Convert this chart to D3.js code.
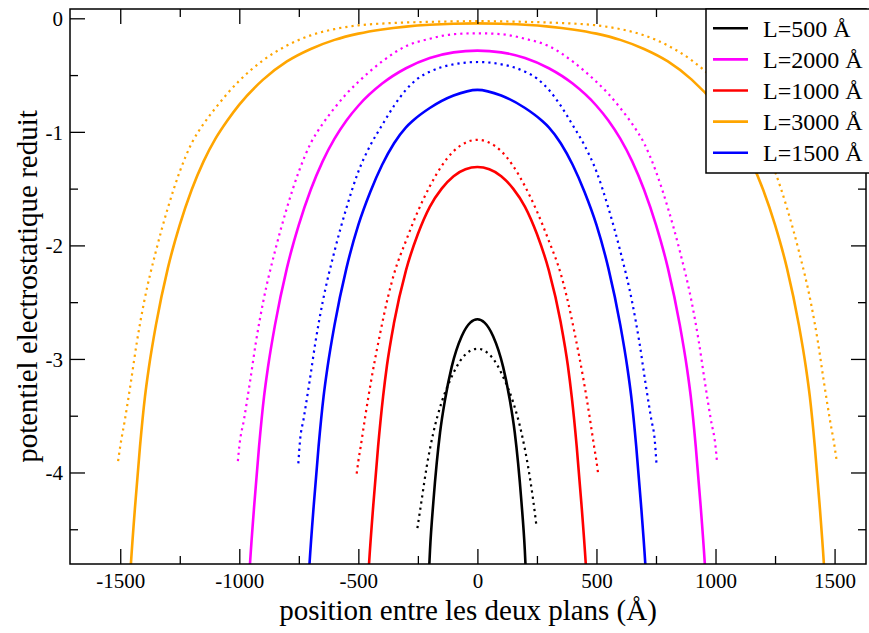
<!DOCTYPE html>
<html>
<head>
<meta charset="utf-8">
<script src="https://cdn.jsdelivr.net/npm/d3@7"></script>
<style>
  html, body { margin: 0; padding: 0; background: #fff; }
  svg { display: block; }
  svg text { font-family: "Liberation Serif", "Times New Roman", serif !important; }
</style>
</head>
<body>
<svg id="chart" width="869" height="633"></svg>
<script>
// ---------- data ----------
const legendLabels = ["L=500 Å", "L=2000 Å", "L=1000 Å", "L=3000 Å", "L=1500 Å"];
const seriesColors = ["#000000", "#ff00ff", "#ff0000", "#ffa500", "#0000ff"];

const xTicks = [-1500, -1000, -500, 0, 500, 1000, 1500];
const yTicks = [0, -1, -2, -3, -4];

// L = 500 Å  (solid = full curve, d = dotted companion)
const x500 = [-204, -199, -185, -171, -157, -136, -108, -66, -30, 0, 30, 66, 108, 136, 157, 171, 185, 199, 204];
const y500 = [-4.9, -4.68, -4.26, -3.92, -3.65, -3.36, -3.07, -2.80, -2.68, -2.65, -2.68, -2.80, -3.07, -3.36, -3.65, -3.92, -4.26, -4.68, -4.9];
const x500d = [-252, -234, -213, -185, -150, -115, -59, 0, 59, 115, 150, 185, 213, 234, 248];
const y500d = [-4.49, -4.24, -3.95, -3.65, -3.38, -3.19, -2.98, -2.91, -2.98, -3.19, -3.38, -3.65, -3.95, -4.24, -4.47];

// L = 1000 Å
const x1000 = [-458, -455, -437, -417, -396, -380, -350, -300, -250, -200, -150, -100, -50, 0, 50, 100, 150, 200, 250, 300, 350, 380, 396, 417, 437, 455, 458];
const y1000 = [-4.9, -4.8, -4.28, -3.77, -3.33, -3.06, -2.68, -2.22, -1.90, -1.66, -1.50, -1.39, -1.33, -1.31, -1.33, -1.39, -1.50, -1.66, -1.90, -2.22, -2.68, -3.06, -3.33, -3.77, -4.28, -4.8, -4.9];
const x1000d = [-507, -500, -490, -472, -447, -409, -375, -350, -300, -250, -200, -150, -100, -50, 0, 50, 100, 150, 200, 250, 300, 350, 375, 409, 447, 472, 490, 500, 507];
const y1000d = [-4.01, -3.90, -3.77, -3.52, -3.20, -2.78, -2.45, -2.25, -1.96, -1.70, -1.48, -1.30, -1.17, -1.095, -1.07, -1.095, -1.17, -1.30, -1.48, -1.70, -1.96, -2.25, -2.45, -2.78, -3.20, -3.52, -3.77, -3.90, -4.01];

// L = 1500 Å
const x1500 = [-708, -705, -687, -667, -646, -630, -600, -550, -500, -450, -400, -350, -300, -270, -200, -100, 0, 100, 200, 270, 300, 350, 400, 450, 500, 550, 600, 630, 646, 667, 687, 705, 708];
const y1500 = [-4.9, -4.8, -4.28, -3.77, -3.33, -3.08, -2.70, -2.20, -1.82, -1.53, -1.29, -1.10, -0.96, -0.90, -0.79, -0.68, -0.63, -0.68, -0.79, -0.90, -0.96, -1.10, -1.29, -1.53, -1.82, -2.20, -2.70, -3.08, -3.33, -3.77, -4.28, -4.8, -4.9];
const x1500d = [-752, -745, -730, -705, -680, -650, -600, -550, -500, -450, -400, -350, -300, -250, -200, -100, 0, 100, 200, 250, 300, 350, 400, 450, 500, 550, 600, 650, 680, 705, 730, 745, 752];
const y1500d = [-3.92, -3.72, -3.53, -3.20, -2.85, -2.50, -2.05, -1.67, -1.35, -1.12, -0.94, -0.77, -0.63, -0.53, -0.47, -0.405, -0.385, -0.405, -0.47, -0.53, -0.63, -0.77, -0.94, -1.12, -1.35, -1.67, -2.05, -2.50, -2.85, -3.20, -3.53, -3.72, -3.92];

// L = 2000 Å
const x2000 = [-958, -955, -937, -917, -896, -880, -850, -800, -750, -700, -650, -600, -550, -500, -400, -300, -200, -100, 0, 100, 200, 300, 400, 500, 550, 600, 650, 700, 750, 800, 850, 880, 896, 917, 937, 955, 958];
const y2000 = [-4.9, -4.8, -4.28, -3.77, -3.33, -3.08, -2.70, -2.20, -1.82, -1.51, -1.26, -1.06, -0.90, -0.77, -0.575, -0.44, -0.35, -0.30, -0.285, -0.30, -0.35, -0.44, -0.575, -0.77, -0.90, -1.06, -1.26, -1.51, -1.82, -2.20, -2.70, -3.08, -3.33, -3.77, -4.28, -4.8, -4.9];
const x2000d = [-1006, -1000, -980, -955, -930, -900, -850, -800, -750, -700, -650, -600, -550, -500, -400, -300, -200, -100, 0, 100, 200, 300, 400, 500, 550, 600, 650, 700, 750, 800, 850, 900, 930, 955, 980, 1000, 1006];
const y2000d = [-3.90, -3.77, -3.53, -3.20, -2.85, -2.50, -2.05, -1.67, -1.35, -1.10, -0.93, -0.79, -0.665, -0.56, -0.38, -0.245, -0.18, -0.14, -0.132, -0.14, -0.18, -0.245, -0.38, -0.56, -0.665, -0.79, -0.93, -1.10, -1.35, -1.67, -2.05, -2.50, -2.85, -3.20, -3.53, -3.77, -3.90];

// L = 3000 Å
const x3000 = [-1458, -1455, -1437, -1417, -1396, -1380, -1350, -1300, -1250, -1200, -1150, -1100, -1050, -1000, -900, -800, -700, -600, -500, -400, -300, -200, -100, 0, 100, 200, 300, 400, 500, 600, 700, 800, 900, 1000, 1050, 1100, 1150, 1200, 1250, 1300, 1350, 1380, 1396, 1417, 1437, 1455, 1458];
const y3000 = [-4.9, -4.8, -4.28, -3.77, -3.33, -3.08, -2.70, -2.20, -1.82, -1.51, -1.26, -1.06, -0.90, -0.76, -0.54, -0.38, -0.27, -0.19, -0.135, -0.098, -0.073, -0.057, -0.048, -0.045, -0.048, -0.057, -0.073, -0.098, -0.135, -0.19, -0.27, -0.38, -0.54, -0.76, -0.90, -1.06, -1.26, -1.51, -1.82, -2.20, -2.70, -3.08, -3.33, -3.77, -4.28, -4.8, -4.9];
const x3000d = [-1509, -1500, -1480, -1455, -1430, -1400, -1350, -1300, -1250, -1200, -1150, -1100, -1000, -900, -800, -700, -600, -500, -400, -300, -200, -100, 0, 100, 200, 300, 400, 500, 600, 700, 800, 900, 1000, 1100, 1150, 1200, 1250, 1300, 1350, 1400, 1430, 1455, 1480, 1500, 1509];
const y3000d = [-3.90, -3.77, -3.53, -3.20, -2.85, -2.50, -2.05, -1.67, -1.35, -1.10, -0.93, -0.79, -0.55, -0.37, -0.24, -0.15, -0.095, -0.062, -0.046, -0.037, -0.031, -0.027, -0.025, -0.027, -0.031, -0.037, -0.046, -0.062, -0.095, -0.15, -0.24, -0.37, -0.55, -0.79, -0.93, -1.10, -1.35, -1.67, -2.05, -2.50, -2.85, -3.20, -3.53, -3.77, -3.90];

// series drawn back to front: [x, y, colour index, dotted?]
const series = [
  [x3000, y3000, 3, false], [x3000d, y3000d, 3, true],
  [x2000, y2000, 1, false], [x2000d, y2000d, 1, true],
  [x1500, y1500, 4, false], [x1500d, y1500d, 4, true],
  [x1000, y1000, 2, false], [x1000d, y1000d, 2, true],
  [x500, y500, 0, false],   [x500d, y500d, 0, true]
];

// ---------- layout ----------
const svg = d3.select("#chart");
const L = 70, R = 866, T = 9, B = 564;
const x = d3.scaleLinear().domain([-1711, 1632]).range([L, R]);
const y = d3.scaleLinear().domain([-4.806, 0.082]).range([B, T]);

svg.append("defs").append("clipPath").attr("id", "clip")
  .append("rect").attr("x", L).attr("y", T).attr("width", R - L).attr("height", B - T);

const line = d3.line().x(d => x(d[0])).y(d => y(d[1])).curve(d3.curveMonotoneX);

const plot = svg.append("g").attr("clip-path", "url(#clip)");
series.forEach(([xs, ys, ci, dotted]) => {
  const pts = xs.map((v, i) => [v, ys[i]]);
  plot.append("path").datum(pts)
    .attr("d", line)
    .attr("fill", "none")
    .attr("stroke", seriesColors[ci])
    .attr("stroke-width", dotted ? 2.2 : 2.6)
    .attr("stroke-dasharray", dotted ? "2.2,4" : null);
});

// ---------- axes (inward ticks on all four sides) ----------
const xMinor = [-1250, -750, -250, 250, 750, 1250];
const yMinor = [-0.5, -1.5, -2.5, -3.5, -4.5];
const fmt = d => d < 0 ? "-" + Math.abs(d) : String(d);
const axisStyle = g => {
  g.select(".domain").remove();
  g.selectAll(".tick line").attr("stroke", "#000").attr("stroke-width", 1.3);
};
function makeAxis(gen, scale, pos, vals, size, horizontal) {
  const g = svg.append("g")
    .attr("transform", horizontal ? `translate(0,${pos})` : `translate(${pos},0)`)
    .call(gen(scale).tickValues(vals).tickSizeInner(size).tickSizeOuter(0).tickFormat(fmt));
  axisStyle(g);
  return g;
}

// bottom
const gxb = makeAxis(d3.axisBottom, x, B, xTicks, -15, true);
gxb.selectAll(".tick text").attr("y", 24).attr("dy", 0)
  .attr("font-size", 21).attr("fill", "#000");
makeAxis(d3.axisBottom, x, B, xMinor, -8, true).selectAll("text").remove();
// top
makeAxis(d3.axisTop, x, T, xTicks, -15, true).selectAll("text").remove();
makeAxis(d3.axisTop, x, T, xMinor, -8, true).selectAll("text").remove();
// left
const gyl = makeAxis(d3.axisLeft, y, L, yTicks, -15, false);
gyl.selectAll(".tick text").attr("x", -7).attr("dy", "0.35em")
  .attr("font-size", 21).attr("fill", "#000");
makeAxis(d3.axisLeft, y, L, yMinor, -8, false).selectAll("text").remove();
// right
makeAxis(d3.axisRight, y, R, yTicks, -15, false).selectAll("text").remove();
makeAxis(d3.axisRight, y, R, yMinor, -8, false).selectAll("text").remove();

// frame
svg.append("rect").attr("x", L).attr("y", T).attr("width", R - L).attr("height", B - T)
  .attr("fill", "none").attr("stroke", "#000").attr("stroke-width", 1.5);

// titles
svg.append("text").attr("x", (L + R) / 2).attr("y", 620).attr("text-anchor", "middle")
  .attr("font-size", 29).attr("fill", "#000").text("position entre les deux plans (Å)");
svg.append("text").attr("transform", `translate(37,${(T + B) / 2}) rotate(-90)`)
  .attr("text-anchor", "middle").attr("font-size", 29).attr("fill", "#000")
  .text("potentiel electrostatique reduit");

// ---------- legend ----------
const lg = svg.append("g");
lg.append("rect").attr("x", 706).attr("y", T).attr("width", 200).attr("height", 164)
  .attr("fill", "#fff").attr("stroke", "#000").attr("stroke-width", 1.5);
legendLabels.forEach((lab, i) => {
  const yy = 28.3 + i * 31.1;
  lg.append("line").attr("x1", 713).attr("x2", 748).attr("y1", yy).attr("y2", yy)
    .attr("stroke", seriesColors[i]).attr("stroke-width", 2.6);
  lg.append("text").attr("x", 763).attr("y", yy).attr("dy", "0.35em")
    .attr("font-size", 24).attr("fill", "#000").text(lab);
});
</script>
</body>
</html>
